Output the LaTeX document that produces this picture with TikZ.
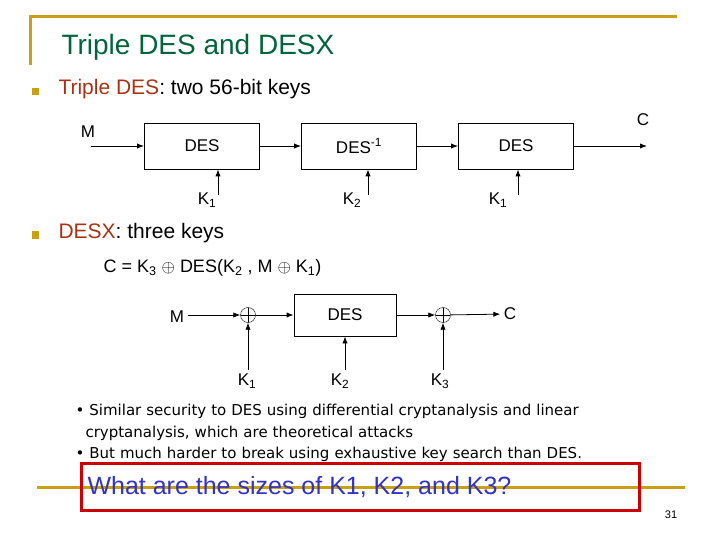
\documentclass[tikz,border=0pt]{standalone}
\usepackage{fontspec}
\setmainfont{Liberation Sans}
\newfontfamily\comicfont{DejaVu Sans}
\usepackage{tikz}
\usetikzlibrary{arrows.meta, positioning}
\definecolor{slidegold}{RGB}{200,160,20}
\definecolor{titlegreen}{RGB}{0,100,60}
\definecolor{termred}{RGB}{170,50,20}
\definecolor{askblue}{RGB}{50,50,200}

\begin{document}
\begin{tikzpicture}[x=1pt,y=-1pt]

        % Define style
        \tikzstyle{desblock} = [rectangle, draw, thick, minimum width=115pt, minimum height=46pt, font=\fontsize{17}{20}\selectfont]
        \tikzstyle{xorop} = [circle, draw, inner sep=0pt, minimum size=15pt, path picture={\draw (path picture bounding box.north) -- (path picture bounding box.south) (path picture bounding box.west) -- (path picture bounding box.east);}]
        \tikzstyle{keylabel} = [font=\fontsize{17}{20}\selectfont]
        \tikzstyle{flow} = [-{Latex[length=7pt]}, thick]
        \tikzstyle{bulletsq} = [fill=slidegold, minimum size=7pt, inner sep=0pt]

        \useasboundingbox (0,0) rectangle (720,540);

        % Slide frame
        \draw[slidegold, line width=3pt] (30,65) -- (30,17) -- (677,17);
        \draw[slidegold, line width=3pt] (37,487) -- (685,487);
        \node[anchor=west, text=titlegreen, font=\fontsize{28}{32}\selectfont] (title) at (58,47) {Triple DES and DESX};

        % First bullet
        \node[bulletsq] (b1) at (35,92) {};
        \node[anchor=west, font=\fontsize{21}{24}\selectfont] (tdes) at (55,89) {\textcolor{termred}{Triple DES}: two 56-bit keys};

        % Triple DES blocks
        \node[desblock] (des1) at (202,146) {DES};
        \node[desblock] (des2) at (359,146) {DES\textsuperscript{-1}};
        \node[desblock] (des3) at (516,146) {DES};
        \node[keylabel] (m1) at (88,132) {M};
        \node[keylabel] (c1) at (643,120) {C};
        \coordinate (min) at (91,146);
        \coordinate (cout) at (647,146);
        \node[keylabel] (k1a) at (207,200) {K\textsubscript{1}};
        \node[keylabel] (k2a) at (352,200) {K\textsubscript{2}};
        \node[keylabel] (k1b) at (498,200) {K\textsubscript{1}};
        \coordinate (k1ain) at (218,195);
        \coordinate (k2ain) at (368,195);
        \coordinate (k1bin) at (518,195);
        \draw[flow] (min) -- (des1);
        \draw[flow] (des1) -- (des2);
        \draw[flow] (des2) -- (des3);
        \draw[flow] (des3) -- (cout);
        \draw[flow] (k1ain) -- (k1ain |- des1.south);
        \draw[flow] (k2ain) -- (k2ain |- des2.south);
        \draw[flow] (k1bin) -- (k1bin |- des3.south);

        % Second bullet
        \node[bulletsq] (b2) at (35,235) {};
        \node[anchor=west, font=\fontsize{21}{24}\selectfont] (desx) at (55,233) {\textcolor{termred}{DESX}: three keys};
        \node[anchor=west, font=\fontsize{18}{22}\selectfont] (formula) at (100,268) {C = K\textsubscript{3} $\oplus$ DES(K\textsubscript{2} , M $\oplus$ K\textsubscript{1})};

        % DESX blocks
        \node[keylabel] (m2) at (177,317) {M};
        \node[xorop] (x1) at (248,315) {};
        \node[desblock, minimum width=102pt, minimum height=42pt] (des4) at (345,315) {DES};
        \node[xorop] (x2) at (443,315) {};
        \node[keylabel] (c2) at (510,314) {C};
        \node[keylabel] (k1c) at (247,381) {K\textsubscript{1}};
        \node[keylabel] (k2c) at (340,381) {K\textsubscript{2}};
        \node[keylabel] (k3c) at (440,381) {K\textsubscript{3}};
        \draw[flow] (m2.east |- x1) -- (x1);
        \draw[flow] (x1) -- (des4);
        \draw[flow] (des4) -- (x2);
        \draw[flow] (x2) -- (c2);
        \draw[flow] (k1c.north -| x1) -- (x1);
        \draw[flow] (k2c.north -| des4) -- (des4);
        \draw[flow] (k3c.north -| x2) -- (x2);

        % Remarks
        \node[anchor=north west, align=left, font=\comicfont\fontsize{15}{21.5}\selectfont, text width=600pt] (notes) at (72,401)
            {\textbullet\ Similar security to DES using differential cryptanalysis and linear\\
             \hspace*{10pt}cryptanalysis, which are theoretical attacks\\
             \textbullet\ But much harder to break using exhaustive key search than DES.};

        % Question
        \node[draw=red!80!black, line width=2.5pt, minimum width=558pt, minimum height=47pt, anchor=west] (ask) at (80,487) {};
        \node[text=askblue, anchor=west, font=\fontsize{25}{28}\selectfont] (asktext) at (84,487) {What are the sizes of K1, K2, and K3?};
        \node[font=\fontsize{11}{13}\selectfont] (page) at (671,515) {31};

    \end{tikzpicture}
\end{document}
